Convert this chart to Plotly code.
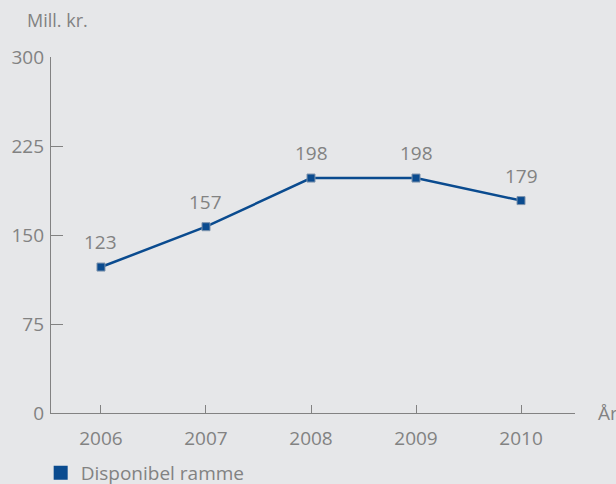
import plotly.graph_objects as go

years = [2006, 2007, 2008, 2009, 2010]
values = [123, 157, 198, 198, 179]
y_ticks = [0, 75, 150, 225, 300]
series_name = "Disponibel ramme"

grey = "#828282"
blue = "#0a4b8f"
bg = "#e6e7e9"
font = "Open Sans"
fs = 19

fig = go.Figure()
fig.add_trace(go.Scatter(
    x=years, y=values, mode="lines+markers",
    line=dict(color=blue, width=2.5),
    marker=dict(symbol="square", size=8, color=blue, line=dict(color="#7d93ad", width=1)),
    showlegend=False, cliponaxis=False,
))
fig.add_trace(go.Scatter(
    x=[None], y=[None], mode="markers", name=series_name,
    marker=dict(symbol="square", size=14, color=blue),
    showlegend=True,
))

annotations = [
    dict(text=str(v), x=x, y=v, xref="x", yref="y", showarrow=False,
         yshift=25, font=dict(family=font, size=fs, color=grey))
    for x, v in zip(years, values)
]
annotations += [
    dict(text="Mill. kr.", x=(57 - 51) / 524, y=1 + (57 - 20) / 356, xref="paper", yref="paper",
         showarrow=False, xanchor="center", yanchor="middle",
         font=dict(family=font, size=fs - 1, color=grey)),
    dict(text="År", x=1.0, y=0, xref="paper", yref="paper", showarrow=False,
         xanchor="left", yanchor="middle", xshift=21, font=dict(family=font, size=fs, color=grey)),
]

fig.update_layout(
    width=616, height=484,
    paper_bgcolor=bg, plot_bgcolor=bg,
    margin=dict(l=51, r=41, t=57, b=71, autoexpand=False),
    font=dict(family=font, size=fs, color=grey),
    xaxis=dict(
        range=[2005.524, 2010.514], tickvals=years, ticktext=[str(y) for y in years],
        showgrid=False, zeroline=False, showline=True, linecolor=grey, linewidth=1.2,
        ticks="inside", ticklen=8, tickcolor=grey, tickwidth=1.2, ticklabelstandoff=8,
        tickfont=dict(family=font, size=fs, color=grey),
    ),
    yaxis=dict(
        range=[0, 300], tickvals=y_ticks, showgrid=False, zeroline=False,
        showline=True, linecolor=grey, linewidth=1.2,
        ticks="inside", ticklen=12, tickcolor=grey, tickwidth=1.2, ticklabelstandoff=2,
        tickfont=dict(family=font, size=fs, color=grey),
    ),
    legend=dict(
        orientation="h", x=-0.0197, xref="paper", y=-0.115, yref="paper",
        xanchor="left", yanchor="top", bgcolor="rgba(0,0,0,0)",
        font=dict(family=font, size=fs, color=grey),
    ),
    annotations=annotations,
)

fig.write_html("out.html", config={"displayModeBar": False},
               post_script="document.body.style.margin='0';document.body.style.overflow='hidden';")
